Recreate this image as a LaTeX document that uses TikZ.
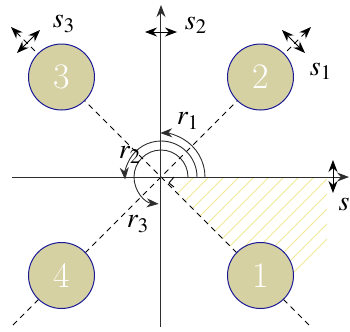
\documentclass[tikz,border=0pt]{standalone}
\usepackage{mathptmx}
\usetikzlibrary{arrows.meta}
\definecolor{disk}{RGB}{214,209,163}
\definecolor{rim}{RGB}{25,25,150}
\definecolor{hatchy}{RGB}{240,234,150}
\definecolor{axisgray}{RGB}{45,45,45}
\begin{document}
\begin{tikzpicture}[x=0.5bp,y=0.5bp,
  tip/.style={-{Stealth[length=6bp,width=4.5bp]}},
  both/.style={{Stealth[length=6bp,width=4.5bp]}-{Stealth[length=6bp,width=4.5bp]}, line width=0.45bp},
  ax/.style={draw=axisgray, line width=0.5bp},
  dsh/.style={line width=0.45bp, dash pattern=on 2.8bp off 2.3bp},
  arcl/.style={draw=axisgray, line width=0.45bp},
  disc/.style={circle, inner sep=0pt, minimum size=33bp, fill=disk, draw=rim, line width=0.5bp,
    text=white, font=\fontsize{18}{20}\selectfont},
  lbl/.style={font=\fontsize{14}{16}\selectfont, inner sep=0pt}]
\useasboundingbox (-161,-155) rectangle (189,177);
% hatched region
\begin{scope}
  \clip (0,0) rectangle (166,-200);
  \foreach \c in {33,48,...,228} \draw[hatchy, line width=0.45bp] (\c/2,-\c/2) -- ++(130,130);
\end{scope}
% coordinates
\coordinate (O) at (0,0);
\coordinate (e1) at (148,-148);
\coordinate (e2) at (150,150);
\coordinate (e3) at (-150,150);
\coordinate (e4) at (-148,-148);
\coordinate (xl) at (-149,0);
\coordinate (xr) at (188,0);
\coordinate (yb) at (0,-150);
\coordinate (yt) at (0,172);
% dashed diagonals
\draw[dsh, tip] (e4) -- (e2);
\draw[dsh, tip] (e1) -- (e3);
% axes
\draw[ax, tip] (xl) -- (xr);
\draw[ax, tip] (yb) -- (yt);
% arcs
\draw[arcl, tip] (44,0) arc[start angle=0, end angle=91, radius=44];
\draw[arcl, tip] (36,0) arc[start angle=0, end angle=184, radius=36];
\draw[arcl, tip] (27,0) arc[start angle=0, end angle=265, radius=27];
\draw[line width=0.45bp] (13,0) -- (8,-6) -- (13,-10);
% disks
\node[disc] (c1) at (99.5,-98.5) {1};
\node[disc] (c2) at (99.5,100) {2};
\node[disc] (c3) at (-99.5,100) {3};
\node[disc] (c4) at (-99.5,-98.5) {4};
% double arrows
\draw[both] (-16,145) -- (16,145);
\draw[both] (172,17) -- (172,-16);
\draw[both] (121,147) -- (144,124);
\draw[both] (-121,147) -- (-144,124);
% labels
\node[lbl] (ls1) at (160,106) {$s_1$};
\node[lbl] (ls2) at (35,152) {$s_2$};
\node[lbl] (ls3) at (-97,153) {$s_3$};
\node[lbl] (ls) at (183,-27) {$s$};
\node[lbl] (lr1) at (27,56) {$r_1$};
\node[lbl] (lr2) at (-31,22) {$r_2$};
\node[lbl] (lr3) at (-23,-47) {$r_3$};
\end{tikzpicture}
\end{document}
